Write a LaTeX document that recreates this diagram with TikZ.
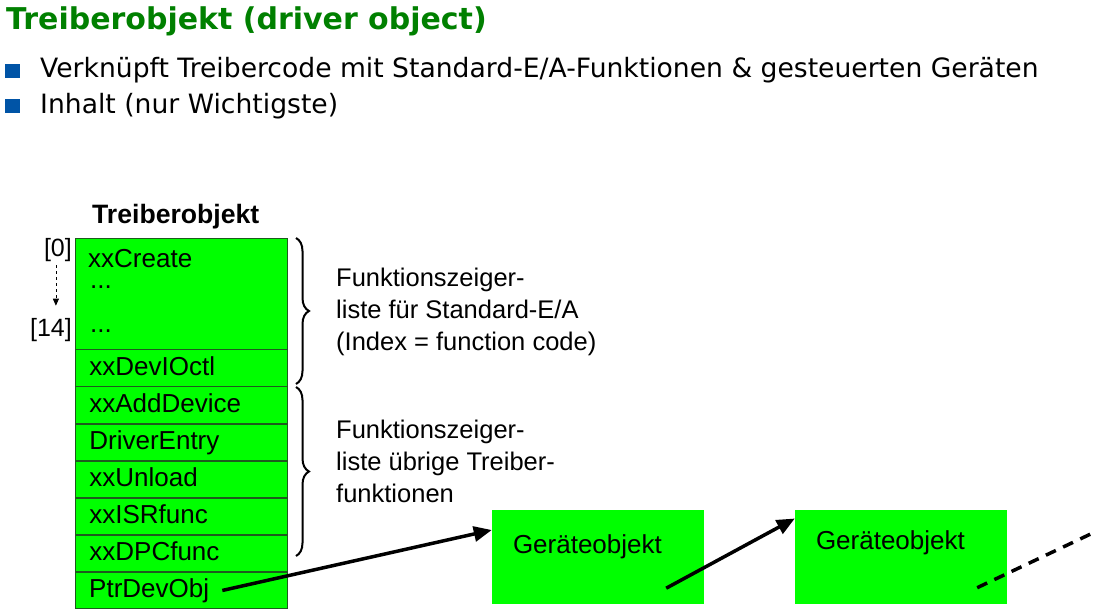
\documentclass[tikz,border=0pt]{standalone}
\usepackage{fontspec}
\setmainfont{Liberation Sans}
\newfontfamily\verdana{DejaVu Sans}
\usetikzlibrary{arrows.meta, positioning, decorations.pathreplacing}

\definecolor{titlegreen}{RGB}{0,128,0}
\definecolor{bulletblue}{RGB}{0,84,166}
\definecolor{objgreen}{RGB}{0,255,0}
\definecolor{cellline}{RGB}{30,90,30}

\begin{document}
\begin{tikzpicture}[x=1pt, y=-1pt,
  cell/.style={draw=cellline, line width=0.8pt, fill=objgreen, minimum width=212pt, inner sep=0pt},
  rowcell/.style={cell, minimum height=36.3pt, text width=184pt, inner xsep=14pt, align=left,
    text height=19pt, text depth=4pt, font=\fontsize{26}{30}\selectfont},
  celltext/.style={anchor=base west, inner sep=0pt, font=\fontsize{26}{30}\selectfont},
  devbox/.style={fill=objgreen, minimum width=212pt, minimum height=94pt, text width=170pt, inner xsep=21pt,
    align=left, text height=19pt, text depth=26pt, font=\fontsize{26}{30}\selectfont},
  bracetext/.style={anchor=west, inner sep=0pt, align=left, font=\fontsize{25.5}{32}\selectfont},
  curly/.style={decorate, decoration={brace, amplitude=13pt}, line width=2pt},
  ptrarrow/.style={line width=3.5pt, -{Triangle[length=18pt, width=15pt]}}]
\useasboundingbox (0,0) rectangle (1112,616);

% Title and bullets
\node[anchor=base west, inner sep=0pt, text=titlegreen, font=\verdana\bfseries\fontsize{30}{34}\selectfont]
  (title) at (6,29) {Treiberobjekt (driver object)};
\fill[bulletblue] (5,64) rectangle (20,78);
\fill[bulletblue] (5,99) rectangle (20,113);
\node[anchor=base west, inner sep=0pt, font=\verdana\fontsize{26.6}{30}\selectfont]
  (bulletone) at (40,77) {Verknüpft Treibercode mit Standard-E/A-Funktionen \& gesteuerten Geräten};
\node[anchor=base west, inner sep=0pt, font=\verdana\fontsize{26.6}{30}\selectfont]
  (bullettwo) at (40,113) {Inhalt (nur Wichtigste)};

% Driver object table
\node[anchor=base west, inner sep=0pt, font=\bfseries\fontsize{26.6}{30}\selectfont] (tablehead) at (92,223) {Treiberobjekt};
\node[cell, minimum height=110.5pt, anchor=north west] (ftable) at (75,238) {};
\node[celltext] (create) at (88,267) {xxCreate};
\node[celltext] (dotsa) at (90,288) {...};
\node[celltext] (dotsb) at (90,332) {...};
\node[rowcell, below=0pt of ftable] (ioctl) {xxDevIOctl};
\node[rowcell, below=0pt of ioctl] (adddev) {xxAddDevice};
\node[rowcell, below=0pt of adddev] (entry) {DriverEntry};
\node[rowcell, below=0pt of entry] (unload) {xxUnload};
\node[rowcell, below=0pt of unload] (isr) {xxISRfunc};
\node[rowcell, below=0pt of isr] (dpc) {xxDPCfunc};
\node[rowcell, below=0pt of dpc] (ptr) {};
\node[celltext, anchor=west, inner xsep=13pt] (ptrname) at ([xshift=1pt]ptr.west) {PtrDevObj};

% Index range
\node[anchor=base east, inner sep=0pt, font=\fontsize{25}{30}\selectfont] (izero) at (72,256) {[0]};
\node[anchor=base east, inner sep=0pt, font=\fontsize{25}{30}\selectfont] (ifourteen) at (72,336) {[14]};
\draw[dashed, line width=0.8pt, -{Triangle[length=7pt, width=6pt]}, shorten <=4pt, shorten >=12pt]
  ([xshift=-2pt]izero.south) -- ([xshift=-2pt]izero.south |- ifourteen.north);

% Braces
\draw[curly] (296,238) -- (296,384);
\draw[curly] (296,387) -- (296,556);
\node[bracetext] (stdio) at (336,312) {Funktionszeiger-\\liste für Standard-E/A\\(Index = function code)};
\node[bracetext] (others) at (336,461) {Funktionszeiger-\\liste übrige Treiber-\\funktionen};

% Device objects
\node[devbox] (devone) at (598,557) {Geräteobjekt};
\node[devbox, text depth=34pt] (devtwo) at (901,556.5) {Geräteobjekt};
\coordinate (nextdev) at (1097,531);

\draw[ptrarrow] (ptrname.east) -- ([yshift=27pt]devone.west);
\draw[ptrarrow] ([shift={(-38pt,16pt)}]devone.south east) -- ([yshift=38pt]devtwo.west);
\draw[line width=3.5pt, dash pattern=on 11pt off 8pt] ([shift={(-30pt,16pt)}]devtwo.south east) -- (nextdev);
\end{tikzpicture}
\end{document}
